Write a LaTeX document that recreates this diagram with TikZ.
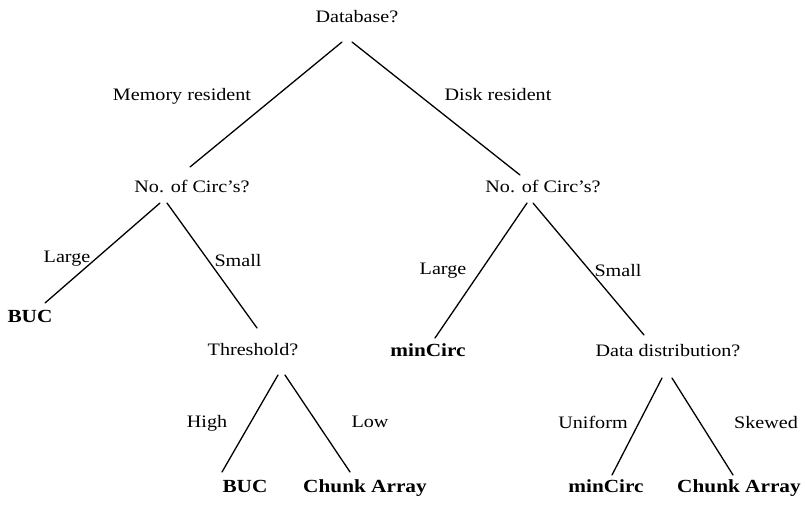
\documentclass[tikz,border=0pt]{standalone}
\usepackage{fontspec}
\setmainfont{Liberation Serif}[FakeStretch=1.15]
\usetikzlibrary{calc}
\tikzset{
  txt/.style={anchor=base, inner sep=0pt, font=\fontsize{17.5}{20}\selectfont},
  leaf/.style={anchor=base, inner sep=0pt, font=\fontsize{18.5}{20}\selectfont\bfseries},
  edge/.style={line width=1.3pt, line cap=round}
}
\begin{document}
\begin{tikzpicture}[x=1pt,y=-1pt]
\useasboundingbox (0,0) rectangle (805,512);
% decision nodes
\node[txt] (db) at (357,22) {Database?};
\node[txt] (no1) at (192,192) {No. of Circ's?};
\node[txt] (no2) at (543,192) {No. of Circ's?};
\node[txt] (thr) at (253,355) {Threshold?};
\node[txt] (dd) at (668,356) {Data distribution?};
% leaves
\node[leaf] (buc1) at (30,322) {BUC};
\node[leaf] (minc1) at (428,356) {minCirc};
\node[leaf] (buc2) at (245,492) {BUC};
\node[leaf] (ch1) at (365,492) {Chunk Array};
\node[leaf] (minc2) at (606,492) {minCirc};
\node[leaf] (ch2) at (739,492) {Chunk Array};
% branch labels
\node[txt] (lmem) at (182,100) {Memory resident};
\node[txt] (ldisk) at (498,100) {Disk resident};
\node[txt] (llarge1) at (67,262) {Large};
\node[txt] (lsmall1) at (238,266) {Small};
\node[txt] (llarge2) at (443,274) {Large};
\node[txt] (lsmall2) at (618,276) {Small};
\node[txt] (lhigh) at (207,427) {High};
\node[txt] (llow) at (370,427) {Low};
\node[txt] (lunif) at (593,428) {Uniform};
\node[txt] (lskew) at (766,428) {Skewed};
% connectors
\draw[edge] ($(db.base)+(-15,20)$) -- ($(no1.base)+(-2,-25)$);
\draw[edge] ($(db.base)+(-5,20)$) -- ($(no2.base)+(-23,-17)$);
\draw[edge] ($(no1.base)+(-32,11)$) -- ($(buc1.base)+(15,-19)$);
\draw[edge] ($(no1.base)+(-25,11)$) -- ($(thr.base)+(4,-27)$);
\draw[edge] ($(no2.base)+(-16,11)$) -- ($(minc1.base)+(7,-18)$);
\draw[edge] ($(no2.base)+(-10,11)$) -- ($(dd.base)+(-24,-21)$);
\draw[edge] ($(thr.base)+(25,20)$) -- ($(buc2.base)+(-23,-20)$);
\draw[edge] ($(thr.base)+(32,20)$) -- ($(ch1.base)+(-15,-20)$);
\draw[edge] ($(dd.base)+(-6,22)$) -- ($(minc2.base)+(6,-17)$);
\draw[edge] ($(dd.base)+(4,22)$) -- ($(ch2.base)+(-6,-17)$);
\end{tikzpicture}
\end{document}
